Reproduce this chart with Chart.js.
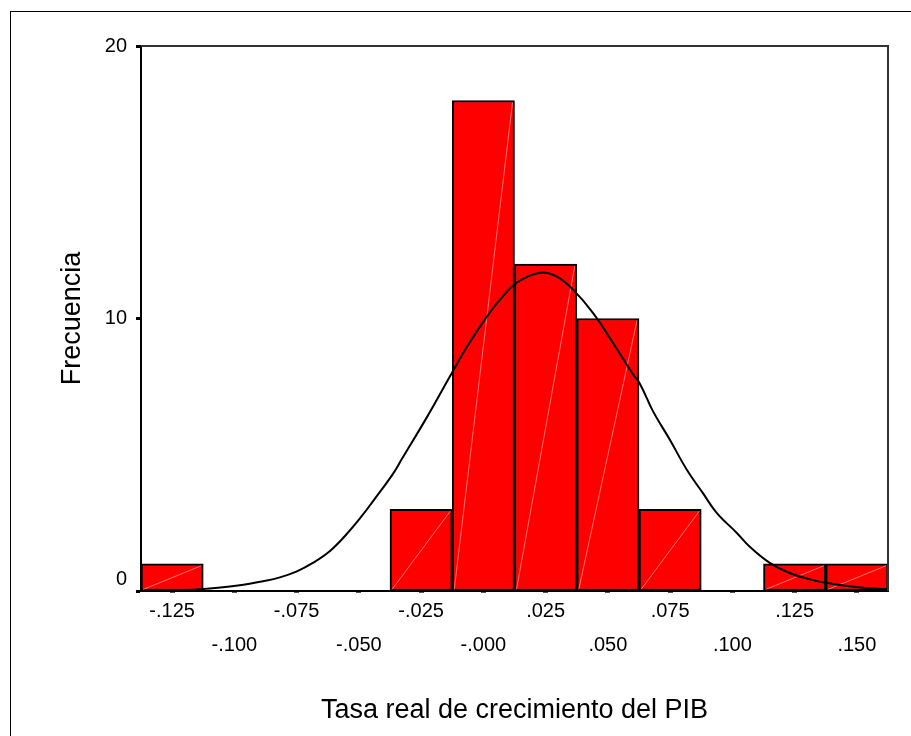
<!DOCTYPE html>
<html>
<head>
<meta charset="utf-8">
<script src="https://cdn.jsdelivr.net/npm/chart.js@4"></script>
<style>
  html, body { margin: 0; padding: 0; background: #ffffff; }
  canvas { display: block; }
</style>
</head>
<body>
<canvas id="hist" width="911" height="736"></canvas>
<script>
// Histogram bins (centre of each 0.025-wide class) and their counts
const binCentres = [-0.125, -0.025, 0.000, 0.025, 0.050, 0.075, 0.125, 0.150];
const binCounts  = [1, 3, 18, 12, 10, 3, 1, 1];

// Fitted normal curve, sampled along the x range
const curveX = [-0.1180, -0.1066, -0.0986, -0.0885, -0.0817, -0.0749, -0.0685, -0.0616,
                -0.0548, -0.0484, -0.0443, -0.0363, -0.0327, -0.0226, -0.0126, -0.0066,
                 0.0014,  0.0067,  0.0135,  0.0227,  0.0295,  0.0360,  0.0440,  0.0520,
                 0.0601,  0.0629,  0.0681,  0.0749,  0.0817,  0.0881,  0.0937,  0.1018,
                 0.1070,  0.1150,  0.1230,  0.1323,  0.1403,  0.1524,  0.1620];
const curveY = [0.04, 0.12, 0.20, 0.36, 0.50, 0.72, 1.03, 1.47,
                2.10, 2.80, 3.30, 4.30, 4.85, 6.39, 8.01, 8.96,
                10.07, 10.69, 11.32, 11.68, 11.54, 11.06, 10.21, 9.11,
                7.95, 7.60, 6.60, 5.55, 4.45, 3.60, 2.87, 2.13,
                1.62, 1.03, 0.66, 0.40, 0.26, 0.12, 0.06];

// Axis ticks
const xTickValues = [-0.125, -0.100, -0.075, -0.050, -0.025, 0.000, 0.025, 0.050, 0.075, 0.100, 0.125, 0.150];
const xTickLabels = ['-.125', '-.100', '-.075', '-.050', '-.025', '-.000', '.025', '.050', '.075', '.100', '.125', '.150'];
const yTickValues = [0, 10, 20];
const yTickLabels = ['0', '10', '20'];

const FONT = "'Liberation Sans', Arial, Helvetica, sans-serif";

// White page with a thin outer frame
const pageFrame = {
  id: 'pageFrame',
  beforeDraw(chart) {
    const ctx = chart.ctx;
    ctx.save();
    ctx.fillStyle = '#ffffff';
    ctx.fillRect(0, 0, chart.width, chart.height);
    ctx.strokeStyle = '#000000';
    ctx.lineWidth = 1;
    ctx.strokeRect(10.5, 11.5, 1000, 1000);
    ctx.restore();
  }
};

// Top and right edges of the plotting frame
const plotFrame = {
  id: 'plotFrame',
  afterDraw(chart) {
    const {left, right, top, bottom} = chart.chartArea;
    const ctx = chart.ctx;
    ctx.save();
    ctx.strokeStyle = '#333333';
    ctx.lineWidth = 2;
    ctx.beginPath();
    ctx.moveTo(left, top);
    ctx.lineTo(right, top);
    ctx.lineTo(right, bottom);
    ctx.stroke();
    ctx.restore();
  }
};

// Faint diagonal stroke inside each bar
const barDiagonal = {
  id: 'barDiagonal',
  afterDatasetDraw(chart, args) {
    if (args.meta.type !== 'bar') return;
    const ctx = chart.ctx;
    ctx.save();
    ctx.strokeStyle = 'rgba(255, 190, 190, 0.6)';
    ctx.lineWidth = 1;
    args.meta.data.forEach(bar => {
      const p = bar.getProps(['x', 'y', 'base', 'width'], true);
      const l = p.x - p.width / 2 + 2, r = p.x + p.width / 2 - 2;
      ctx.beginPath();
      ctx.moveTo(l, p.base - 1);
      ctx.lineTo(r, p.y + 2);
      ctx.stroke();
    });
    ctx.restore();
  }
};

new Chart(document.getElementById('hist'), {
  data: {
    datasets: [
      {
        type: 'line',
        order: 0,
        data: curveX.map((x, i) => ({x, y: curveY[i]})),
        borderColor: '#000000',
        borderWidth: 2,
        pointRadius: 0,
        tension: 0.4,
        fill: false
      },
      {
        type: 'bar',
        order: 1,
        data: binCentres.map((x, i) => ({x, y: binCounts[i]})),
        backgroundColor: '#ff0000',
        borderColor: '#000000',
        borderWidth: 2,
        borderSkipped: false,
        categoryPercentage: 1,
        barPercentage: 1
      }
    ]
  },
  options: {
    responsive: false,
    animation: false,
    devicePixelRatio: 1,
    layout: { padding: { left: 0, right: 23, top: 46, bottom: 0 } },
    plugins: { legend: { display: false }, tooltip: { enabled: false } },
    scales: {
      x: {
        type: 'linear',
        offset: false,
        min: -0.1375,
        max: 0.1625,
        afterFit(scale) { scale.height = 145; },
        afterBuildTicks(scale) { scale.ticks = xTickValues.map(v => ({value: v})); },
        grid: {
          offset: false,
          drawOnChartArea: false,
          drawTicks: true,
          tickLength: 2,
          tickWidth: 5,
          tickColor: '#555555'
        },
        border: { display: true, color: '#000000', width: 2 },
        ticks: {
          autoSkip: false,
          maxRotation: 0,
          padding: 2,
          color: '#000000',
          font: { family: FONT, size: 20, lineHeight: 1.675 },
          callback(value, index) {
            const label = xTickLabels[index];
            return index % 2 === 0 ? [label] : ['', label];
          }
        },
        title: {
          display: true,
          text: 'Tasa real de crecimiento del PIB',
          color: '#000000',
          font: { family: FONT, size: 27 },
          padding: { top: 0, bottom: 9 }
        }
      },
      y: {
        type: 'linear',
        min: 0,
        max: 20,
        afterFit(scale) { scale.width = 141; },
        afterBuildTicks(scale) { scale.ticks = yTickValues.map(v => ({value: v})); },
        grid: {
          drawOnChartArea: false,
          drawTicks: true,
          tickLength: 5,
          tickWidth: 3,
          tickColor: '#000000'
        },
        border: { display: true, color: '#000000', width: 2 },
        ticks: {
          padding: 9,
          color: '#000000',
          font: { family: FONT, size: 20 },
          callback(value, index) {
            const label = yTickLabels[index];
            return index === 0 ? [label, ''] : label;
          }
        },
        title: {
          display: true,
          text: 'Frecuencia',
          color: '#000000',
          font: { family: FONT, size: 27 },
          padding: { top: 56, bottom: 0 }
        }
      }
    }
  },
  plugins: [pageFrame, plotFrame, barDiagonal]
});
</script>
</body>
</html>
